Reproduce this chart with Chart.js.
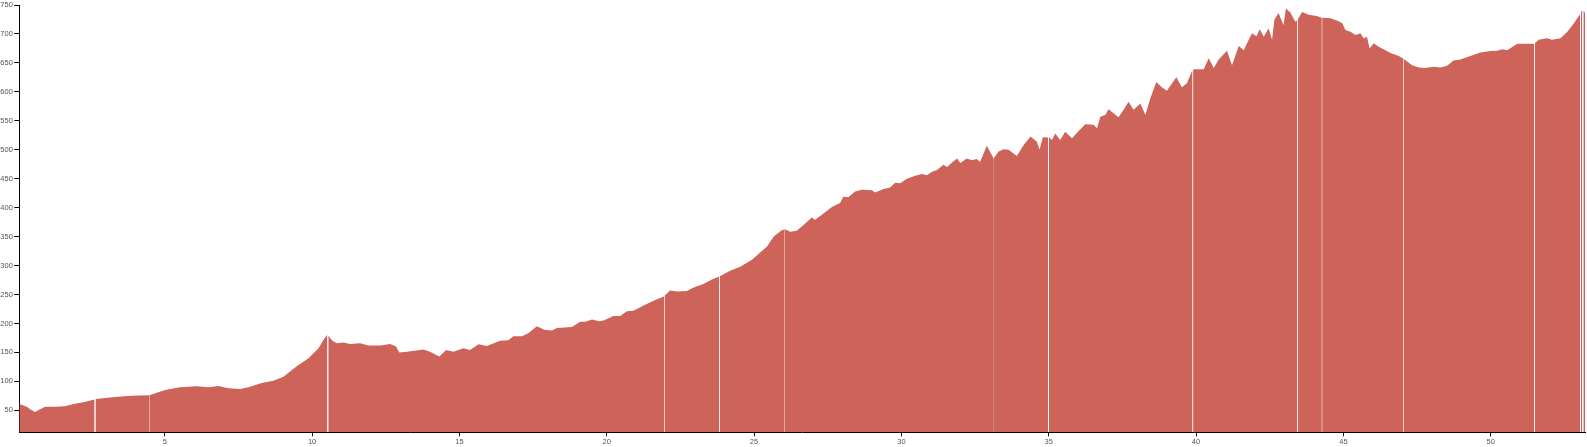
<!DOCTYPE html>
<html>
<head>
<meta charset="utf-8">
<script src="https://cdn.jsdelivr.net/npm/chart.js@4"></script>
<style>
    html, body { margin: 0; padding: 0; background: #fff; }
    canvas { display: block; }
</style>
</head>
<body>
<canvas id="chart" width="1587" height="447"></canvas>
<script>
// distance along the route (km) and elevation (m)
const distanceKm = [
    0.065, 0.32, 0.43, 0.6, 0.77, 0.94, 1.28, 1.62, 1.9, 2.24, 2.62,
    2.65, 3.31, 3.88, 4.47,
    4.475, 5.01, 5.52, 6.09, 6.48, 6.82, 7.16, 7.56, 7.84, 8.29, 8.69, 9.03, 9.48, 9.88, 10.22, 10.38, 10.52,
    10.55, 10.67, 10.84, 11.06, 11.29, 11.63, 11.91, 12.31, 12.65, 12.85, 12.96, 13.22, 13.78, 14.0, 14.32,
    14.55, 14.8, 15.14, 15.36, 15.65, 15.93, 16.38, 16.66, 16.83, 17.12, 17.34, 17.63, 17.88, 18.14, 18.31,
    18.82, 19.1, 19.27, 19.5, 19.75, 19.89, 20.23, 20.46, 20.68, 20.91, 21.25, 21.59, 21.95,
    21.96, 22.15, 22.38, 22.72, 22.95, 23.28, 23.57, 23.82,
    23.84, 24.19, 24.53, 24.93, 25.15, 25.44, 25.67, 25.94, 26.02,
    26.025, 26.23, 26.45, 26.68, 26.96, 27.07, 27.36, 27.64, 27.92, 28.03, 28.2, 28.43, 28.66, 29.0, 29.11,
    29.39, 29.62, 29.79, 29.96, 30.19, 30.47, 30.7, 30.87, 31.04, 31.21, 31.43, 31.55, 31.72, 31.89, 32.0,
    32.22, 32.39, 32.56, 32.67, 32.9, 33.14,
    33.144, 33.3, 33.47, 33.64, 33.92, 34.15, 34.38, 34.6, 34.69, 34.8, 34.98,
    35.01, 35.11, 35.22, 35.39, 35.56, 35.79, 35.96, 36.24, 36.52, 36.64, 36.75, 36.92, 37.03, 37.2, 37.37,
    37.54, 37.71, 37.88, 38.11, 38.28, 38.45, 38.65, 38.84, 39.01, 39.33, 39.52, 39.69, 39.88,
    39.9, 40.03, 40.26, 40.43, 40.6, 40.77, 41.05, 41.22, 41.45, 41.62, 41.73, 41.9, 42.05, 42.16, 42.3,
    42.46, 42.58, 42.66, 42.8, 42.97, 43.05, 43.2, 43.37, 43.44,
    43.46, 43.6, 43.82, 44.1, 44.27,
    44.28, 44.56, 44.79, 44.96, 45.07, 45.24, 45.41, 45.58, 45.69, 45.8, 45.89, 46.03, 46.2, 46.43, 46.6,
    46.88, 47.04,
    47.045, 47.33, 47.56, 47.78, 48.07, 48.29, 48.52, 48.74, 48.97, 49.31, 49.65, 49.99, 50.22, 50.39, 50.56,
    50.9, 51.18, 51.48,
    51.5, 51.63, 51.91, 52.08, 52.37, 52.6, 52.82, 53.03,
    53.065, 53.11,
    53.145, 53.2
];

const elevationM = [
    61, 56, 52, 47, 52, 56, 56, 57, 61, 64, 68.5,
    69.5, 73, 75, 76,
    76, 85, 90, 91.5, 90, 92, 88, 87, 90, 97, 101, 108, 126, 140, 157, 171, 181,
    179, 171, 166, 167, 164.5, 166, 162, 162, 164.5, 160, 150, 151, 155, 151, 143,
    154, 151, 157, 154, 164, 161, 170, 171, 178, 178, 183, 195, 189, 188, 192,
    194, 203, 203, 207, 204, 205, 213, 213, 221, 222, 231, 239, 247,
    248, 257, 255, 256, 262, 268, 276, 281,
    281.5, 291, 298, 310, 320, 333, 350, 361, 362,
    363, 358.5, 360, 370, 383, 379, 390, 401, 408, 419, 418, 428, 431, 430, 426,
    432, 435, 443, 442, 450, 455, 458, 456, 462, 465, 474, 470, 478, 485, 477,
    485, 482, 484, 479, 507, 484,
    486, 497, 501, 500, 489, 508, 523, 514, 500, 521.5, 521,
    522, 517, 528, 517, 531, 520, 529.5, 544, 543, 537, 557, 560, 570, 563, 556,
    569, 583, 569, 580, 560, 589, 617, 608, 602, 625, 608, 615, 638,
    638.5, 639, 639, 658, 641, 656, 671, 646, 679, 672, 684, 701, 696, 708, 695,
    710, 690, 725, 736, 715, 744, 737, 721, 724,
    726, 738, 733, 731, 728,
    728, 727, 723, 719, 707, 704, 698, 701, 692, 695, 675, 684, 678, 672, 667,
    662, 657,
    657, 646, 642, 641, 643.5, 642, 645, 654, 656, 662, 668, 670.5, 671, 673.5, 672,
    683, 683, 683,
    684, 690, 692.5, 690, 692.5, 704, 718, 734,
    738, 742,
    740, 737
];

// the profile is drawn as separate pieces, ending at these distances
const segmentEndKm = [
    2.62, 4.47, 10.52, 21.95, 23.82, 26.02, 33.14, 34.98,
    39.88, 43.44, 44.27, 47.04, 51.48, 53.03, 53.11, 53.2
];

const xTicksKm = [5, 10, 15, 20, 25, 30, 35, 40, 45, 50];
const yTicksM = [50, 100, 150, 200, 250, 300, 350, 400, 450, 500, 550, 600, 650, 700, 750];

const fillColor = "#cd6359";

const datasets = [];
let start = 0;

segmentEndKm.forEach(end =>
{
    const pts = [];

    for(let i = start; i < distanceKm.length && distanceKm[i] <= end; i++)
    {
        pts.push({ x: distanceKm[i], y: elevationM[i] });
        start = i + 1;
    }

    datasets.push(
    {
        data: pts,
        fill: "start",
        backgroundColor: fillColor,
        borderColor: "rgba(0,0,0,0)",
        borderWidth: 0,
        pointRadius: 0,
        tension: 0
    });
});

const tickFont = { family: "'Liberation Sans', Arial, sans-serif", size: 7.5 };

new Chart(
    document.getElementById("chart"),
    {
        type: "line",
        data: { datasets },
        options:
        {
            responsive: false,
            animation: false,
            layout: { padding: { left: 0, right: 2, top: 5, bottom: 0 } },
            plugins:
            {
                legend: { display: false },
                tooltip: { enabled: false }
            },
            scales:
            {
                x:
                {
                    type: "linear",
                    min: 0.065,
                    max: 53.2,
                    afterBuildTicks: s => { s.ticks = xTicksKm.map(v => ({ value: v })); },
                    afterFit: s =>
                    {
                        s.height = 14.7;
                        s.paddingLeft = 0;
                        s.paddingRight = 0;
                    },
                    grid: { drawOnChartArea: false, color: "#000", tickLength: 4 },
                    border: { color: "#000", width: 1 },
                    ticks: { color: "#555", font: tickFont, padding: 1, maxRotation: 0, autoSkip: false }
                },
                y:
                {
                    min: 12,
                    max: 750,
                    afterBuildTicks: s => { s.ticks = yTicksM.map(v => ({ value: v })); },
                    afterFit: s =>
                    {
                        s.width = 19.3;
                        s.paddingTop = 0;
                        s.paddingBottom = 0;
                    },
                    grid: { drawOnChartArea: false, color: "#000", tickLength: 5 },
                    border: { color: "#000", width: 1 },
                    ticks: { color: "#555", font: tickFont, padding: 1.5, autoSkip: false }
                }
            }
        }
    }
);
</script>
</body>
</html>
